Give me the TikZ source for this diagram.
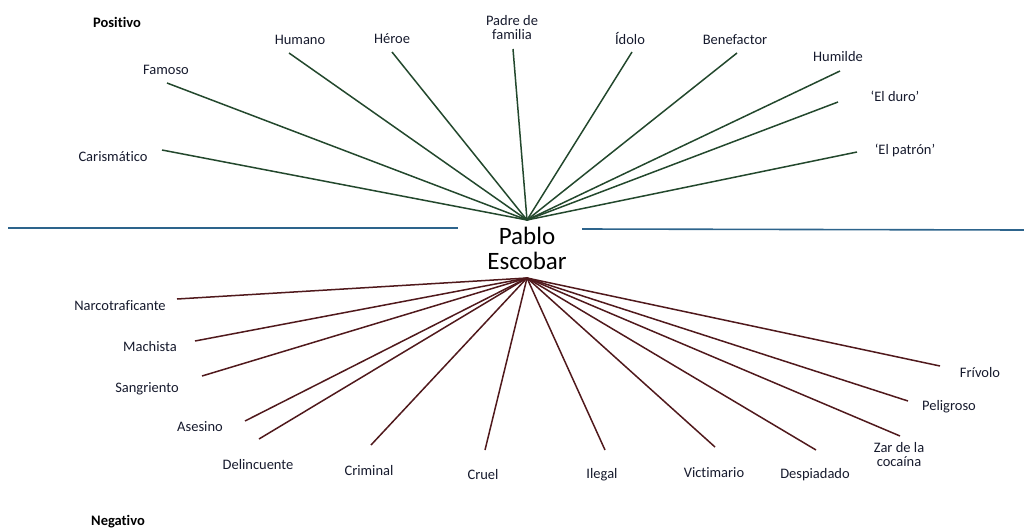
\documentclass[tikz,border=0pt]{standalone}
\usepackage{fontspec}
\setmainfont[Ligatures=NoCommon]{Carlito}
\definecolor{lblc}{RGB}{22,26,45}
\definecolor{posc}{RGB}{35,72,45}
\definecolor{negc}{RGB}{80,25,28}
\definecolor{axisc}{RGB}{45,100,140}
\begin{document}
\begin{tikzpicture}[x=1pt,y=-1pt,
  lbl/.style={font=\fontsize{14.5}{14}\selectfont, text=lblc, inner sep=0pt, align=center},
  ttl/.style={font=\bfseries\fontsize{14.5}{14}\selectfont, text=black, inner sep=0pt},
  posline/.style={draw=posc, line width=1.5pt},
  negline/.style={draw=negc, line width=1.5pt},
  axisline/.style={draw=axisc, line width=1.6pt}]
\useasboundingbox (0,0) rectangle (1024,530);

% title labels
\node[ttl] (pos) at (117,22) {Positivo};
\node[ttl] (neg) at (118,522) {Negativo};

% centre
\node[font=\fontsize{25}{25}\selectfont, inner sep=0pt, align=center] (pe) at (527,248) {Pablo\\Escobar};
\coordinate (hubU) at (527,220);
\coordinate (hubD) at (527,278);

% axis
\coordinate (axA) at (8,228);
\coordinate (axB) at (458,228);
\coordinate (axC) at (582,229);
\coordinate (axD) at (1024,230);
\draw[axisline] (axA) -- (axB);
\draw[axisline] (axC) -- (axD);

% positive labels
\node[lbl] (car) at (113,157) {Carismático};
\node[lbl] (fam) at (166,70) {Famoso};
\node[lbl] (hum) at (300,40) {Humano};
\node[lbl] (her) at (392,39) {Héroe};
\node[lbl] (pad) at (512,28) {Padre de\\familia};
\node[lbl] (ido) at (630,38) {Ídolo};
\node[lbl] (ben) at (735,40) {Benefactor};
\node[lbl] (hml) at (838,57) {Humilde};
\node[lbl] (dur) at (895,96) {‘El duro’};
\node[lbl] (pat) at (905,150) {‘El patrón’};

\coordinate (ecar) at (162,150);
\coordinate (efam) at (167,83);
\coordinate (ehum) at (289,53);
\coordinate (eher) at (392,52);
\coordinate (epad) at (513,49);
\coordinate (eido) at (632,52);
\coordinate (eben) at (737,53);
\coordinate (ehml) at (840,71);
\coordinate (edur) at (838,102);
\coordinate (epat) at (857,152);

\foreach \e in {ecar,efam,ehum,eher,epad,eido,eben,ehml,edur,epat}
  \draw[posline] (\e) -- (hubU);

% negative labels
\node[lbl] (nar) at (120,306) {Narcotraficante};
\node[lbl] (mac) at (150,347) {Machista};
\node[lbl] (san) at (147,389) {Sangriento};
\node[lbl] (ase) at (200,427) {Asesino};
\node[lbl] (del) at (258,465) {Delincuente};
\node[lbl] (cri) at (369,471) {Criminal};
\node[lbl] (cru) at (483,475) {Cruel};
\node[lbl] (ile) at (602,475) {Ilegal};
\node[lbl] (vic) at (714,473) {Victimario};
\node[lbl] (des) at (815,475) {Despiadado};
\node[lbl] (zar) at (899,455) {Zar de la\\cocaína};
\node[lbl] (pel) at (949,407) {Peligroso};
\node[lbl] (fri) at (980,373) {Frívolo};

\coordinate (enar) at (177,299);
\coordinate (emac) at (195,341);
\coordinate (esan) at (202,376);
\coordinate (ease) at (245,421);
\coordinate (edel) at (259,439);
\coordinate (ecri) at (371,445);
\coordinate (ecru) at (485,450);
\coordinate (eile) at (605,450);
\coordinate (evic) at (715,447);
\coordinate (edes) at (816,450);
\coordinate (ezar) at (900,436);
\coordinate (epel) at (908,401);
\coordinate (efri) at (940,366);

\foreach \e in {enar,emac,esan,ease,edel,ecri,ecru,eile,evic,edes,ezar,epel,efri}
  \draw[negline] (hubD) -- (\e);
\end{tikzpicture}
\end{document}
